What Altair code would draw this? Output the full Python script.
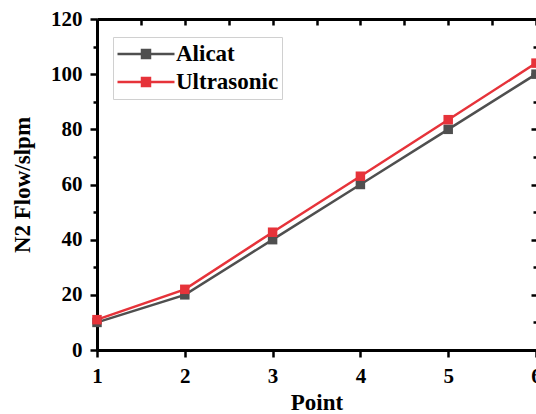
import altair as alt
import pandas as pd

points = [1, 2, 3, 4, 5, 6]
alicat = [10, 20, 40, 60, 80, 100]
ultrasonic = [11, 22, 42.7, 63, 83.5, 104]
series = ["Alicat", "Ultrasonic"]
colors = ["#4f4f4f", "#e6333a"]
x_ticks = [1, 1.5, 2, 2.5, 3, 3.5, 4, 4.5, 5, 5.5, 6]
y_ticks = list(range(0, 121, 10))
y_major = list(range(0, 121, 20))
y_minor = list(range(10, 120, 20))

rows = []
for p, a, u in zip(points, alicat, ultrasonic):
    rows.append({"Point": p, "Flow": a, "Series": "Alicat"})
    rows.append({"Point": p, "Flow": u, "Series": "Ultrasonic"})
df = pd.DataFrame(rows)

FONT = "Liberation Serif"
xscale = alt.Scale(domain=[1, 6], nice=False, zero=False)
yscale = alt.Scale(domain=[0, 120], nice=False)

legend = alt.Legend(
    title=None, orient="none", legendX=16, legendY=18,
    symbolType="M-1,0L1,0M-0.14,-0.14L0.14,-0.14L0.14,0.14L-0.14,0.14Z",
    symbolSize=3249, symbolStrokeWidth=2.5, clipHeight=28, rowPadding=0,
    labelFont=FONT, labelFontSize=23, labelFontWeight="bold", labelColor="black",
    labelOffset=0, padding=3, strokeColor="#d0d0d0", fillColor="white",
)
color = alt.Color("Series:N", scale=alt.Scale(domain=series, range=colors), legend=legend)

common_axis = dict(domainColor="black", domainWidth=3, tickColor="black", tickWidth=2.5,
                   labelFont=FONT, labelFontSize=21, labelFontWeight="bold", labelColor="black",
                   titleFont=FONT, titleFontSize=23, titleFontWeight="bold", titleColor="black",
                   grid=False)

lines = alt.Chart(df).mark_line(strokeWidth=2.5).encode(
    x=alt.X("Point:Q", scale=xscale, axis=alt.Axis(
        orient="bottom", values=x_ticks, title="Point", format="d",
        labelExpr="datum.value % 1 === 0 ? datum.label : ''",
        tickSize={"condition": {"test": "datum.value % 1 === 0", "value": 7}, "value": 4},
        labelPadding=8, titlePadding=5, labelFlush=False, labelOverlap=False, **common_axis)),
    y=alt.Y("Flow:Q", scale=yscale, axis=alt.Axis(
        orient="left", values=y_ticks, title="N2 Flow/slpm",
        labelExpr="datum.value % 20 === 0 ? datum.label : ''",
        tickSize={"condition": {"test": "datum.value % 20 === 0", "value": 7}, "value": 4},
        labelPadding=8, titlePadding=16, labelFlush=False, labelOverlap=False, **common_axis)),
    color=color,
    order=alt.Order("Point:Q"),
)

pts = alt.Chart(df).mark_point(shape="square", filled=True, size=90, opacity=1).encode(
    x=alt.X("Point:Q", scale=xscale, axis=alt.Axis(
        orient="top", values=x_ticks, title=None, labels=False, domain=False,
        tickSize=6, offset=-6, **common_axis)),
    y=alt.Y("Flow:Q", scale=yscale, axis=alt.Axis(
        orient="right", values=y_major, title=None, labels=False, domain=False,
        tickSize=5, offset=-5, **common_axis)),
    color=color,
)

frame = alt.Chart(df).mark_point(opacity=0).encode(
    x=alt.X("Point:Q", scale=xscale, axis=alt.Axis(
        orient="top", title=None, labels=False, ticks=False, domain=True, **common_axis)),
    y=alt.Y("Flow:Q", scale=yscale, axis=alt.Axis(
        orient="right", values=y_minor, title=None, labels=False, domain=False,
        tickSize=3, offset=-3, **common_axis)),
)

chart = alt.layer(lines, pts, frame).resolve_axis(x="independent", y="independent").properties(
    width=439, height=331,
    autosize=alt.AutoSizeParams(type="none"),
    padding={"left": 97, "top": 19, "right": 0, "bottom": 64},
).configure_view(stroke=None).configure(background="white")

chart.save("out.html", embed_options={"renderer": "svg", "actions": False})
